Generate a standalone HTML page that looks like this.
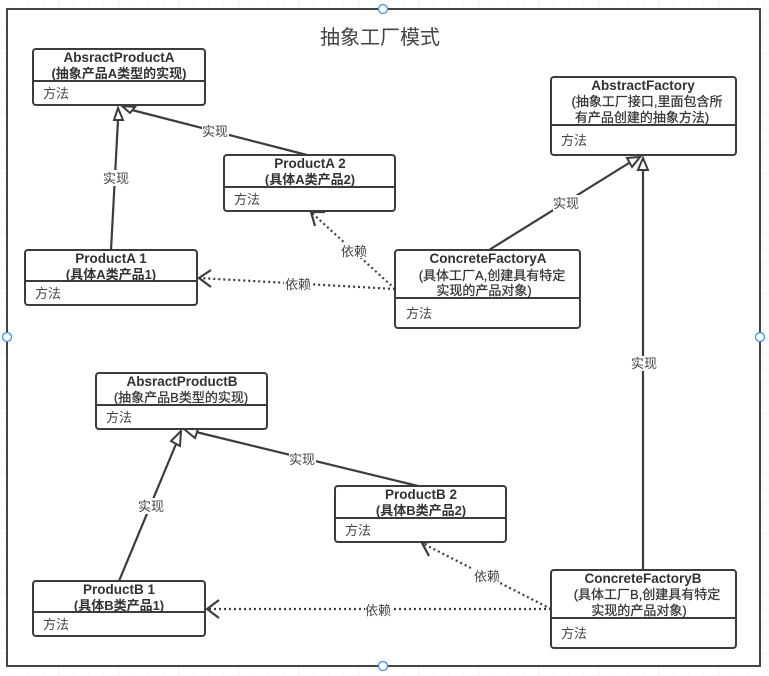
<!DOCTYPE html>
<html><head><meta charset="utf-8"><style>
html,body{margin:0;padding:0;background:#fff;width:769px;height:676px;overflow:hidden}
svg{display:block}
text{font-family:"Liberation Sans","Noto Sans CJK SC",sans-serif;fill:#323232}
.t{font-size:13.5px;font-weight:bold;text-anchor:middle}
.b{font-size:13px;font-weight:bold;text-anchor:middle}
.r{font-size:13px;text-anchor:middle;stroke:#323232;stroke-width:.25px}
.m{font-size:13px;fill:#444}
.l{font-size:13px;text-anchor:middle;fill:#444}
.box{fill:#fff;stroke:#3c3c3c;stroke-width:2}
.div{stroke:#3c3c3c;stroke-width:2}
.ln{stroke:#3c3c3c;stroke-width:2.2;fill:none}
.dot{stroke:#3c3c3c;stroke-width:2.2;fill:none;stroke-dasharray:2 3}
.tri{fill:#fff;stroke:#3c3c3c;stroke-width:2}
.bg{fill:#fff}
</style></head><body>
<svg width="769" height="676" viewBox="0 0 769 676" xmlns="http://www.w3.org/2000/svg">
<defs>
<pattern id="g" width="15" height="15" patternUnits="userSpaceOnUse" x="-2" y="-7">
<path d="M15 0H0V15" fill="none" stroke="#f2f2f2" stroke-width="1"/>
</pattern>
<pattern id="g2" width="60" height="60" patternUnits="userSpaceOnUse" x="-2" y="-7">
<path d="M60 0H0V60" fill="none" stroke="#e6e6e6" stroke-width="1"/>
</pattern>
</defs>
<rect width="769" height="676" fill="url(#g)"/>
<rect width="769" height="676" fill="url(#g2)"/>
<rect x="7" y="9" width="753" height="657" fill="#fff" stroke="#444" stroke-width="2"/>
<text x="380" y="44" style="font-size:20px;text-anchor:middle;fill:#444">抽象工厂模式</text>

<!-- connectors -->
<line class="ln" x1="111" y1="250" x2="118" y2="120"/>
<polygon class="tri" points="118,108 114,120 123,120"/>
<line class="ln" x1="307" y1="155" x2="132" y2="110"/>
<polygon class="tri" points="122,106 135,107 130,113"/>
<line class="ln" x1="489" y1="250" x2="629" y2="163"/>
<polygon class="tri" points="640,157 627,158 632,167"/>
<line class="ln" x1="643" y1="570" x2="643" y2="170"/>
<polygon class="tri" points="643,158 638,170 648,170"/>
<line class="ln" x1="119" y1="581" x2="176" y2="444"/>
<polygon class="tri" points="181,431 171,441 180,446"/>
<line class="ln" x1="418" y1="486" x2="196" y2="432"/>
<polygon class="tri" points="184,429 198,429 195,438"/>

<line class="dot" x1="395" y1="289" x2="199" y2="278"/>
<polyline class="ln" points="211,270 199,278 211,287"/>
<line class="dot" x1="395" y1="289" x2="312" y2="213"/>
<polyline class="ln" points="325,212 311,212 315,226"/>
<line class="dot" x1="551" y1="609" x2="207" y2="609"/>
<polyline class="ln" points="219,600 207,609 219,618"/>
<line class="dot" x1="551" y1="609" x2="422" y2="543"/>
<polyline class="ln" points="436,541 422,543 429,556"/>

<!-- connector labels -->
<rect class="bg" x="103" y="170" width="27" height="16"/><text class="l" x="116" y="183">实现</text>
<rect class="bg" x="202" y="124" width="27" height="15"/><text class="l" x="215" y="136">实现</text>
<rect class="bg" x="553" y="195" width="27" height="16"/><text class="l" x="566" y="208">实现</text>
<rect class="bg" x="631" y="356" width="27" height="15"/><text class="l" x="644" y="368">实现</text>
<rect class="bg" x="138" y="498" width="27" height="16"/><text class="l" x="151" y="511">实现</text>
<rect class="bg" x="289" y="452" width="27" height="15"/><text class="l" x="302" y="464">实现</text>
<rect class="bg" x="284" y="276" width="27" height="15"/><text class="l" x="298" y="289">依赖</text>
<rect class="bg" x="340" y="243" width="27" height="15"/><text class="l" x="354" y="256">依赖</text>
<rect class="bg" x="365" y="602" width="27" height="15"/><text class="l" x="378" y="615">依赖</text>
<rect class="bg" x="473" y="568" width="27" height="15"/><text class="l" x="487" y="581">依赖</text>

<!-- classes -->
<rect class="box" x="33" y="49" width="172" height="56" rx="3"/><line class="div" x1="33" y1="81" x2="205" y2="81"/>
<text class="t" x="119" y="62">AbsractProductA</text><text class="b" x="119" y="78">(抽象产品A类型的实现)</text><text class="m" x="43" y="98">方法</text>

<rect class="box" x="224" y="155" width="171" height="56" rx="3"/><line class="div" x1="224" y1="187" x2="395" y2="187"/>
<text class="t" x="310" y="168">ProductA 2</text><text class="b" x="310" y="184">(具体A类产品2)</text><text class="m" x="234" y="204">方法</text>

<rect class="box" x="25" y="250" width="172" height="55" rx="3"/><line class="div" x1="25" y1="281" x2="197" y2="281"/>
<text class="t" x="111" y="263">ProductA 1</text><text class="b" x="111" y="279">(具体A类产品1)</text><text class="m" x="35" y="298">方法</text>

<rect class="box" x="551" y="77" width="185" height="78" rx="3"/><line class="div" x1="551" y1="125" x2="736" y2="125"/>
<text class="t" x="643" y="90">AbstractFactory</text><text class="r" x="647" y="106">(抽象工厂接口,里面包含所</text><text class="r" x="642" y="122">有产品创建的抽象方法)</text><text class="m" x="561" y="145">方法</text>

<rect class="box" x="395" y="250" width="185" height="78" rx="3"/><line class="div" x1="395" y1="298" x2="580" y2="298"/>
<text class="t" x="488" y="263">ConcreteFactoryA</text><text class="r" x="492" y="280">(具体工厂A,创建具有特定</text><text class="r" x="484" y="295">实现的产品对象)</text><text class="m" x="406" y="318">方法</text>

<rect class="box" x="96" y="373" width="171" height="56" rx="3"/><line class="div" x1="96" y1="405" x2="267" y2="405"/>
<text class="t" x="182" y="386">AbsractProductB</text><text class="r" x="181" y="402">(抽象产品B类型的实现)</text><text class="m" x="106" y="422">方法</text>

<rect class="box" x="335" y="486" width="171" height="56" rx="3"/><line class="div" x1="335" y1="518" x2="506" y2="518"/>
<text class="t" x="421" y="499">ProductB 2</text><text class="b" x="421" y="515">(具体B类产品2)</text><text class="m" x="345" y="535">方法</text>

<rect class="box" x="33" y="581" width="172" height="55" rx="3"/><line class="div" x1="33" y1="612" x2="205" y2="612"/>
<text class="t" x="119" y="594">ProductB 1</text><text class="b" x="119" y="610">(具体B类产品1)</text><text class="m" x="43" y="629">方法</text>

<rect class="box" x="551" y="570" width="185" height="78" rx="3"/><line class="div" x1="551" y1="618" x2="736" y2="618"/>
<text class="t" x="643" y="583">ConcreteFactoryB</text><text class="r" x="647" y="599">(具体工厂B,创建具有特定</text><text class="r" x="639" y="615">实现的产品对象)</text><text class="m" x="561" y="638">方法</text>

<!-- selection handles -->
<g fill="#fff" stroke="#2f8fe8" stroke-width="1.2">
<circle cx="383" cy="9" r="4.5"/><circle cx="7" cy="337" r="4.5"/><circle cx="760" cy="337" r="4.5"/><circle cx="383" cy="666" r="4.5"/>
</g>
</svg>
</body></html>
